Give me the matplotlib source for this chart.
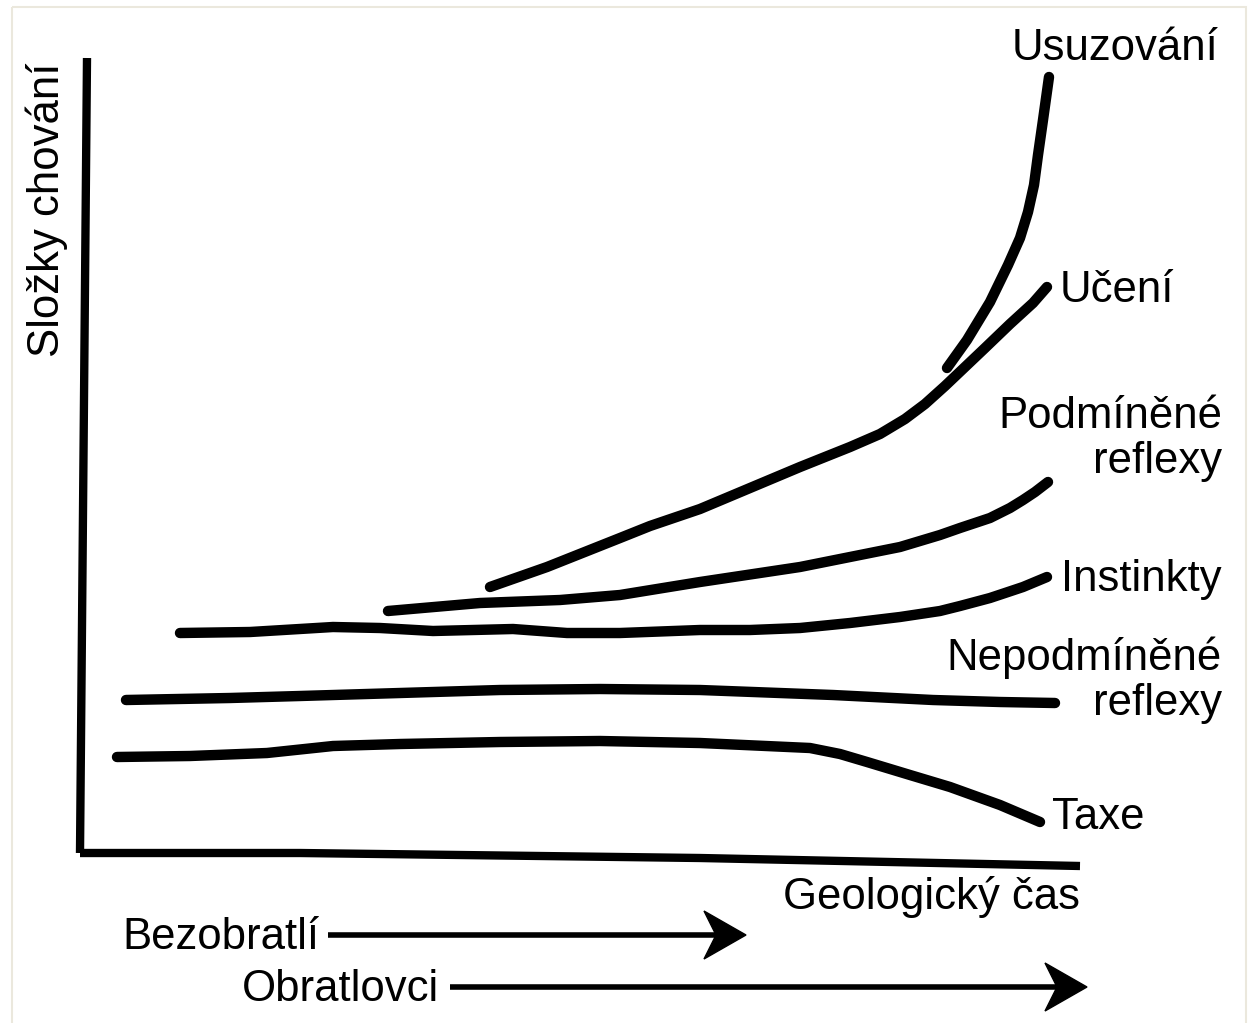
import matplotlib
matplotlib.use("Agg")
import matplotlib.pyplot as plt
from matplotlib.patches import Polygon, Rectangle

# Hand-drawn trend curves (x = geological time, y = screen position, top = 0)
usuzovani_x = [947, 967, 990, 1008, 1020, 1028, 1034, 1038, 1043, 1049]
usuzovani_y = [368, 340, 302, 265, 238, 212, 185, 155, 120, 77]

uceni_x = [490, 547, 620, 650, 700, 750, 800, 850, 880, 905, 925, 945, 965,
           985, 1010, 1033, 1047]
uceni_y = [587, 567, 538, 526, 509, 488, 467, 447, 434, 419, 404, 386, 367,
           348, 324, 303, 287]

podm_x = [388, 480, 560, 620, 700, 800, 900, 940, 960, 990, 1010, 1023, 1035, 1048]
podm_y = [611, 603, 600, 595, 582, 567, 547, 535, 528, 518, 508, 500, 492, 482]

instinkty_x = [180, 250, 333, 380, 433, 513, 567, 620, 700, 750, 800, 850, 900,
               940, 960, 990, 1023, 1047]
instinkty_y = [633, 632, 627, 628, 631, 629, 633, 633, 630, 630, 628, 623, 617,
               611, 606, 598, 587, 577]

nepodm_x = [126, 230, 300, 400, 500, 600, 700, 833, 933, 1000, 1055]
nepodm_y = [700, 698, 696, 693, 690, 689, 690, 695, 700, 702, 703]

taxe_x = [117, 190, 267, 333, 400, 500, 600, 700, 810, 840, 867, 910, 950, 1000, 1040]
taxe_y = [757, 756, 753, 746, 744, 742, 741, 743, 748, 754, 762, 775, 787, 805, 822]

curves = [
    (usuzovani_x, usuzovani_y),
    (uceni_x, uceni_y),
    (podm_x, podm_y),
    (instinkty_x, instinkty_y),
    (nepodm_x, nepodm_y),
    (taxe_x, taxe_y),
]

# Axis strokes
yaxis_x = [87, 80]
yaxis_y = [58, 853]
xaxis_x = [80, 300, 700, 1080]
xaxis_y = [853, 853, 858, 866]

# Group arrows along time: (label, label x, shaft start, tip x, y)
groups = [
    ("Bezobratlí", 122, 328, 746, 935),
    ("Obratlovci", 242, 450, 1087, 987),
]

FONT = "Liberation Sans"
FS = 31.5

fig = plt.figure(figsize=(12.49, 10.23), dpi=100)
ax = fig.add_axes([0, 0, 1, 1])
ax.set_xlim(0, 1249)
ax.set_ylim(1023, 0)
ax.axis("off")

# Light page frame
ax.add_patch(Rectangle((12, 7), 1234, 1030, fill=False, edgecolor="#ebe8dd",
                       linewidth=1.5))

ax.plot(yaxis_x, yaxis_y, color="black", linewidth=6, solid_capstyle="butt")
ax.plot(xaxis_x, xaxis_y, color="black", linewidth=6, solid_capstyle="butt")

for xs, ys in curves:
    ax.plot(xs, ys, color="black", linewidth=7.5, solid_capstyle="round",
            solid_joinstyle="round")

txt = dict(fontsize=FS, family=FONT, color="black")
ax.text(47, 210, "Složky chování", rotation=90, ha="center", va="center", **txt)
ax.text(1012, 60, "Usuzování", ha="left", va="baseline", **txt)
ax.text(1060, 302, "Učení", ha="left", va="baseline", **txt)
ax.text(1222, 428, "Podmíněné", ha="right", va="baseline", **txt)
ax.text(1222, 473, "reflexy", ha="right", va="baseline", **txt)
ax.text(1222, 591, "Instinkty", ha="right", va="baseline", **txt)
ax.text(1222, 670, "Nepodmíněné", ha="right", va="baseline", **txt)
ax.text(1222, 715, "reflexy", ha="right", va="baseline", **txt)
ax.text(1052, 829, "Taxe", ha="left", va="baseline", **txt)
ax.text(1080, 909, "Geologický čas", ha="right", va="baseline", **txt)

head_len, head_half, notch = 42, 24, 12
for label, lx, x0, tip, y in groups:
    ax.text(lx, y + 14, label, ha="left", va="baseline", **txt)
    ax.plot([x0, tip - head_len + notch], [y, y], color="black", linewidth=4,
            solid_capstyle="butt")
    head = Polygon([(tip, y), (tip - head_len, y - head_half),
                    (tip - head_len + notch, y), (tip - head_len, y + head_half)],
                   closed=True, facecolor="black", edgecolor="black", linewidth=1)
    ax.add_patch(head)

fig.savefig("out.png", dpi=100, facecolor="white")
